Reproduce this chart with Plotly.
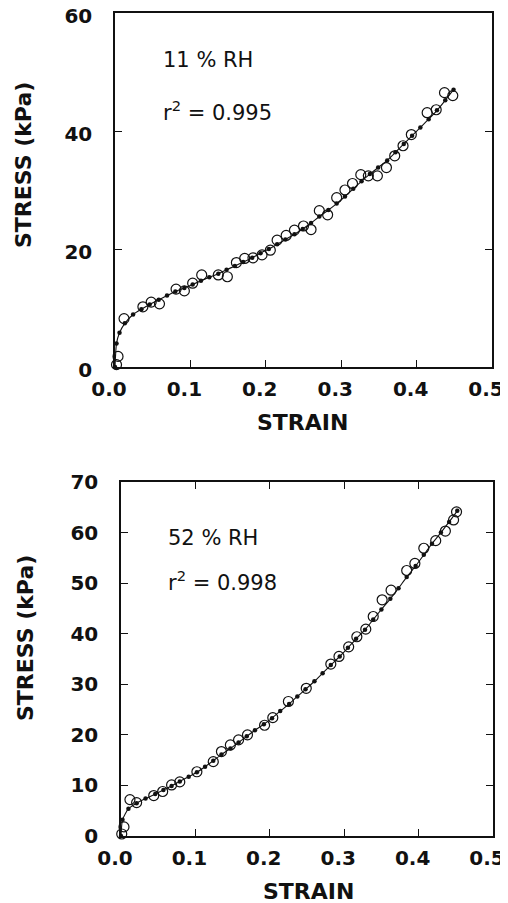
import plotly.graph_objects as go

# ---------------- data: 11 % RH (top panel) ----------------
strain_11_obs = [0.002, 0.004, 0.012, 0.037, 0.048, 0.059, 0.081, 0.092, 0.103, 0.115,
                 0.137, 0.149, 0.161, 0.172, 0.183, 0.195, 0.206, 0.215, 0.227, 0.238,
                 0.250, 0.260, 0.271, 0.282, 0.294, 0.305, 0.315, 0.326, 0.336, 0.348,
                 0.360, 0.371, 0.382, 0.393, 0.414, 0.426, 0.437, 0.448]
stress_11_obs = [0.4, 1.8, 8.2, 10.2, 11.0, 10.7, 13.2, 12.9, 14.2, 15.6,
                 15.6, 15.3, 17.7, 18.4, 18.5, 19.0, 19.8, 21.5, 22.3, 23.2,
                 23.9, 23.3, 26.5, 25.8, 28.7, 30.0, 31.1, 32.6, 32.4, 32.4,
                 33.8, 35.8, 37.5, 39.4, 43.1, 43.6, 46.5, 46.0]

strain_11_fit = [0.0, 0.002, 0.006, 0.013, 0.024, 0.035, 0.046, 0.058, 0.069, 0.080,
                 0.092, 0.103, 0.114, 0.125, 0.137, 0.148, 0.159, 0.170, 0.182, 0.193,
                 0.204, 0.215, 0.226, 0.238, 0.249, 0.260, 0.271, 0.283, 0.294, 0.305,
                 0.316, 0.327, 0.338, 0.349, 0.361, 0.372, 0.383, 0.394, 0.405, 0.416,
                 0.427, 0.438, 0.449]
stress_11_fit = [0.0, 4.0, 5.8, 7.4, 8.9, 9.8, 10.6, 11.4, 12.1, 12.8,
                 13.4, 14.0, 14.6, 15.2, 15.8, 16.5, 17.1, 17.8, 18.5, 19.3,
                 20.0, 20.8, 21.6, 22.5, 23.4, 24.4, 25.5, 26.6, 27.7, 28.9,
                 30.2, 31.5, 32.7, 33.8, 35.0, 36.4, 37.8, 39.2, 40.6, 42.0,
                 43.5, 45.2, 47.0]

# ---------------- data: 52 % RH (bottom panel) ----------------
strain_52_obs = [0.001, 0.004, 0.012, 0.021, 0.044, 0.056, 0.068, 0.079, 0.102, 0.124,
                 0.135, 0.147, 0.158, 0.170, 0.193, 0.204, 0.225, 0.249, 0.282, 0.293,
                 0.306, 0.317, 0.329, 0.339, 0.351, 0.363, 0.384, 0.395, 0.407, 0.423,
                 0.436, 0.447, 0.451]
stress_52_obs = [0.4, 1.8, 7.2, 6.6, 8.0, 8.8, 10.1, 10.7, 12.7, 14.7,
                 16.7, 18.0, 19.0, 20.0, 21.9, 23.4, 26.6, 29.2, 34.0, 35.5,
                 37.4, 39.4, 40.9, 43.4, 46.7, 48.6, 52.5, 53.9, 56.9, 58.4,
                 60.3, 62.5, 64.1]

strain_52_fit = [0.0, 0.002, 0.010, 0.021, 0.033, 0.046, 0.057, 0.068, 0.079, 0.091,
                 0.102, 0.113, 0.124, 0.135, 0.147, 0.158, 0.169, 0.180, 0.192, 0.203,
                 0.214, 0.226, 0.237, 0.248, 0.260, 0.271, 0.282, 0.294, 0.305, 0.316,
                 0.328, 0.339, 0.350, 0.362, 0.373, 0.384, 0.396, 0.407, 0.418, 0.430,
                 0.441, 0.452]
stress_52_fit = [0.0, 3.2, 5.4, 6.5, 7.4, 8.3, 9.1, 9.9, 10.8, 11.7,
                 12.6, 13.7, 14.9, 16.1, 17.3, 18.5, 19.7, 20.9, 22.1, 23.3,
                 24.7, 26.1, 27.6, 29.0, 30.6, 32.2, 33.8, 35.5, 37.2, 39.0,
                 40.8, 42.8, 44.8, 46.9, 49.0, 51.2, 53.4, 55.6, 57.8, 60.0,
                 62.1, 64.3]

x_ticks = [0.0, 0.1, 0.2, 0.3, 0.4, 0.5]
x_ticktext = ["0.0", "0.1", "0.2", "0.3", "0.4", "0.5"]
y_ticks_top = [0, 20, 40, 60]
y_ticks_bot = [0, 10, 20, 30, 40, 50, 60, 70]

labels_top = ["11 % RH", "r<sup>2</sup> = 0.995"]
labels_bot = ["52 % RH", "r<sup>2</sup> = 0.998"]
axis_x_title = "STRAIN"
axis_y_title = "STRESS (kPa)"

# ---------------- figure ----------------
# the page body adds an 8 px margin, so the figure is 8 px smaller each way
OFF = 8
W, H = 508 - OFF, 903 - OFF
INK = "#111111"
FONT = "DejaVu Sans, Verdana, sans-serif"

fig = go.Figure()

def add_panel(xs_obs, ys_obs, xs_fit, ys_fit, xa, ya):
    fig.add_trace(go.Scatter(
        x=xs_obs, y=ys_obs, mode="markers", xaxis=xa, yaxis=ya,
        marker=dict(symbol="circle-open", size=10, color=INK, line=dict(width=1.2, color=INK)),
        cliponaxis=False, showlegend=False, hoverinfo="skip"))
    fig.add_trace(go.Scatter(
        x=xs_fit, y=ys_fit, mode="lines+markers", xaxis=xa, yaxis=ya,
        line=dict(color=INK, width=1.1, shape="spline", smoothing=0.6),
        marker=dict(symbol="circle", size=4.5, color=INK),
        cliponaxis=False, showlegend=False, hoverinfo="skip"))

add_panel(strain_11_obs, stress_11_obs, strain_11_fit, stress_11_fit, "x", "y")
add_panel(strain_52_obs, stress_52_obs, strain_52_fit, stress_52_fit, "x2", "y2")

def px_x(p):
    return (p - OFF) / W

def px_y(p):
    return 1 - (p - OFF) / H

tickfont = dict(family=FONT, size=20, color=INK, weight="bold")

def xaxis(domain, anchor, mirror):
    return dict(domain=domain, anchor=anchor, range=[0, 0.5], tickvals=x_ticks,
                ticktext=x_ticktext, showline=True, mirror=mirror, linecolor=INK,
                linewidth=1.5, ticks="inside", ticklen=7, tickwidth=1.3, tickcolor=INK,
                showgrid=False, zeroline=False, tickfont=tickfont, automargin=False,
                ticklabeloverflow="allow", ticklabelstandoff=3, ticklabelshift=-6)

def yaxis(domain, anchor, rng, vals, shift):
    return dict(domain=domain, anchor=anchor, range=rng, tickvals=vals,
                showline=True, mirror="ticks", linecolor=INK, linewidth=1.5,
                ticks="inside", ticklen=7, tickwidth=1.3, tickcolor=INK,
                showgrid=False, zeroline=False, tickfont=tickfont, automargin=False,
                ticklabeloverflow="allow", ticklabelstandoff=17, ticklabelshift=shift)

annos = []
title_font = dict(family=FONT, size=22, color=INK, weight="bold")
text_font = dict(family=FONT, size=21, color=INK)

# top panel texts
annos.append(dict(text=labels_top[0], x=px_x(161), y=px_y(60), xref="paper", yref="paper",
                  xanchor="left", yanchor="middle", showarrow=False, font=text_font))
annos.append(dict(text=labels_top[1], x=px_x(161), y=px_y(111), xref="paper", yref="paper",
                  xanchor="left", yanchor="middle", showarrow=False, font=text_font))
annos.append(dict(text=axis_x_title, x=px_x(302), y=px_y(422), xref="paper", yref="paper",
                  xanchor="center", yanchor="middle", showarrow=False, font=title_font))
annos.append(dict(text=axis_y_title, x=px_x(24), y=px_y(165), xref="paper", yref="paper",
                  xanchor="center", yanchor="middle", showarrow=False, textangle=-90,
                  font=title_font))
# bottom panel texts
annos.append(dict(text=labels_bot[0], x=px_x(166), y=px_y(538), xref="paper", yref="paper",
                  xanchor="left", yanchor="middle", showarrow=False, font=text_font))
annos.append(dict(text=labels_bot[1], x=px_x(166), y=px_y(581), xref="paper", yref="paper",
                  xanchor="left", yanchor="middle", showarrow=False, font=text_font))
annos.append(dict(text=axis_x_title, x=px_x(308), y=px_y(891), xref="paper", yref="paper",
                  xanchor="center", yanchor="middle", showarrow=False, font=title_font))
annos.append(dict(text=axis_y_title, x=px_x(25), y=px_y(638), xref="paper", yref="paper",
                  xanchor="center", yanchor="middle", showarrow=False, textangle=-90,
                  font=title_font))

fig.update_layout(
    width=W, height=H,
    margin=dict(l=0, r=0, t=0, b=0, pad=0, autoexpand=False),
    paper_bgcolor="white", plot_bgcolor="white",
    font=dict(family=FONT, color=INK),
    xaxis=xaxis([px_x(115), px_x(492)], "y", True),
    yaxis=yaxis([px_y(367), px_y(13)], "x", [0, 60], y_ticks_top, 3),
    xaxis2=xaxis([px_x(121), px_x(493)], "y2", "ticks"),
    yaxis2=yaxis([px_y(836), px_y(482)], "x2", [0, 70], y_ticks_bot, 0),
    annotations=annos,
)

fig.write_html("out.html")
